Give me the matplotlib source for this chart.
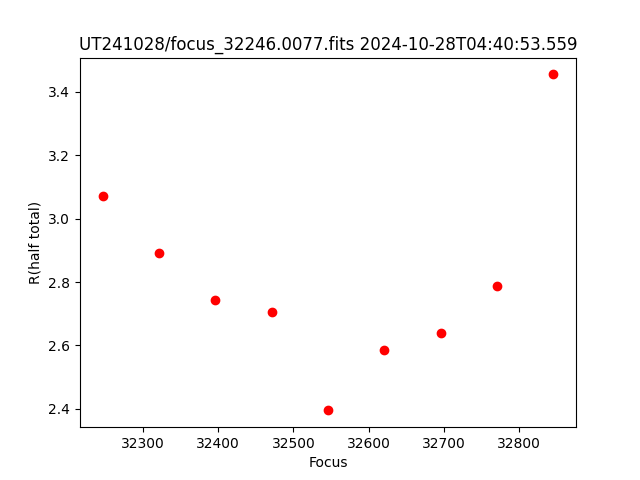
import matplotlib
matplotlib.use("Agg")
import matplotlib.pyplot as plt

focus = [32246, 32321, 32396, 32471, 32546, 32621, 32696, 32771, 32846]
r_half = [3.070, 2.893, 2.742, 2.707, 2.395, 2.584, 2.638, 2.786, 3.455]

fig, ax = plt.subplots(figsize=(6.4, 4.8), dpi=100)
ax.plot(focus, r_half, 'ro')
ax.set_xlabel("Focus")
ax.set_ylabel("R(half total)")
ax.set_title("UT241028/focus_32246.0077.fits 2024-10-28T04:40:53.559")
fig.savefig("out.png")
